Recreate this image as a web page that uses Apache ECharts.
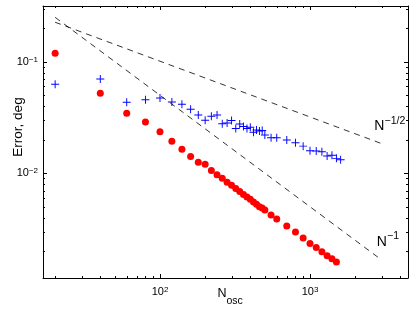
<!DOCTYPE html>
<html><head><meta charset="utf-8">
<script src="https://cdn.jsdelivr.net/npm/echarts@6/dist/echarts.min.js"></script>
<style>html,body{margin:0;padding:0;background:#fff}#c{width:415px;height:309px}</style>
</head><body><div id="c"></div>
<script>
// ---- data ----
const nOscRed = [20,40,60,80,100,120,140,160,180,200,220,240,260,280,300,320,340,360,380,400,420,440,460,480,500,550,600,700,800,900,1000,1100,1200,1300,1400,1500];
const errRed = [0.1189,0.0521,0.0345,0.0288,0.0236,0.0194,0.0164,0.0141,0.01256,0.01205,0.0106,0.0097,0.00904,0.0083,0.0078,0.00728,0.00687,0.00646,0.00613,0.00585,0.00553,0.00527,0.00502,0.00489,0.00469,0.00423,0.00389,0.00337,0.00298,0.00262,0.00235,0.00216,0.00198,0.00182,0.00171,0.0016];
const nOscBlue = [20,40,60,80,100,120,140,160,180,200,220,240,260,280,300,320,340,360,380,400,420,440,460,480,500,550,600,700,800,900,1000,1100,1200,1300,1400,1500,1600];
const errBlue = [0.0627,0.0700,0.0433,0.0456,0.0473,0.0435,0.0416,0.0375,0.0333,0.0299,0.0324,0.0333,0.0278,0.0282,0.0297,0.0252,0.0277,0.0262,0.0252,0.0258,0.0233,0.0244,0.0239,0.0242,0.0220,0.0208,0.0208,0.0199,0.0188,0.0175,0.0159,0.0158,0.0156,0.0143,0.0145,0.0136,0.0132];
const refHalfN = [20, 3000];
const refHalfErr = [0.226, 0.01845];
const refOneN = [20, 3000];
const refOneErr = [0.25, 0.00167];
const xMajorTicks = [100, 1000];
const xMinorTicks = [20,30,40,50,60,70,80,90,200,300,400,500,600,700,800,900,2000,3000,4000];
const yMajorTicks = [0.01, 0.1];
const yMinorTicks = [0.002,0.003,0.004,0.005,0.006,0.007,0.008,0.009,0.02,0.03,0.04,0.05,0.06,0.07,0.08,0.09,0.2,0.3];
const xRange = [16.6, 4500];
const yRange = [0.00115, 0.316];

const FONT = '"Liberation Sans", Arial, Helvetica, sans-serif';
const chart = echarts.init(document.getElementById('c'), null, {renderer: 'canvas'});

function isPow10(v) {
  const e = Math.log10(v);
  return Math.abs(e - Math.round(e)) < 1e-6;
}
function expLabel(v) {
  if (!isPow10(v)) return '';
  const e = Math.round(Math.log10(v));
  return '{b|10}{s|' + String(e).replace('-', '\u2212') + '}';
}
const labelRich = {
  b: {fontFamily: FONT, fontSize: 11, lineHeight: 12, color: '#000'},
  s: {fontFamily: FONT, fontSize: 8, lineHeight: 12, verticalAlign: 'top', color: '#000'}
};

function baseAxis(range, extra) {
  return Object.assign({
    type: 'log', logBase: 10, min: range[0], max: range[1],
    splitLine: {show: false}, axisTick: {show: false}, minorTick: {show: false},
    axisLine: {show: true, lineStyle: {color: '#000', width: 1}}
  }, extra);
}

function tickSeries(values, isX, len) {
  return {
    type: 'custom', silent: true, z: 5, clip: false,
    xAxisIndex: 0, yAxisIndex: 0,
    data: values.map(v => isX ? [v, 0.01] : [100, v]),
    encode: {x: 0, y: 1},
    renderItem: function (params, api) {
      const cs = params.coordSys;
      const p = api.coord([api.value(0), api.value(1)]);
      const st = {stroke: '#000', lineWidth: 1};
      if (isX) {
        const x = Math.round(p[0]) + 0.5;
        const yb = cs.y + cs.height, yt = cs.y;
        return {type: 'group', children: [
          {type: 'line', shape: {x1: x, y1: yb, x2: x, y2: yb - len}, style: st},
          {type: 'line', shape: {x1: x, y1: yt, x2: x, y2: yt + len}, style: st}
        ]};
      } else {
        const y = Math.round(p[1]) + 0.5;
        const xl = cs.x, xr = cs.x + cs.width;
        return {type: 'group', children: [
          {type: 'line', shape: {x1: xl, y1: y, x2: xl + len, y2: y}, style: st},
          {type: 'line', shape: {x1: xr, y1: y, x2: xr - len, y2: y}, style: st}
        ]};
      }
    }
  };
}

const plusPath = 'path://M-0.6,-5 L0.6,-5 L0.6,-0.6 L5,-0.6 L5,0.6 L0.6,0.6 L0.6,5 L-0.6,5 L-0.6,0.6 L-5,0.6 L-5,-0.6 L-0.6,-0.6 Z';

const option = {
  animation: false,
  backgroundColor: '#fff',
  grid: {left: 43, top: 6, right: 7, bottom: 31, containLabel: false},
  xAxis: [
    baseAxis(xRange, {position: 'bottom', axisLabel: {show: true, margin: 8, showMinLabel: false, showMaxLabel: false, formatter: expLabel, rich: labelRich}}),
    baseAxis(xRange, {position: 'top', axisLabel: {show: false}})
  ],
  yAxis: [
    baseAxis(yRange, {position: 'left', axisLabel: {show: true, margin: 5, showMinLabel: false, showMaxLabel: false, formatter: expLabel, rich: labelRich}}),
    baseAxis(yRange, {position: 'right', axisLabel: {show: false}})
  ],
  series: [
    {
      name: 'N^-1/2', type: 'line', data: refHalfN.map((n, i) => [n, refHalfErr[i]]),
      showSymbol: false, silent: true,
      lineStyle: {color: '#000', width: 0.8, type: [6, 5]}
    },
    {
      name: 'N^-1', type: 'line', data: refOneN.map((n, i) => [n, refOneErr[i]]),
      showSymbol: false, silent: true,
      lineStyle: {color: '#000', width: 0.8, type: [6, 5]}
    },
    {
      name: 'blue', type: 'scatter', data: nOscBlue.map((n, i) => [n, errBlue[i]]),
      symbol: plusPath, symbolSize: 8,
      itemStyle: {color: '#0000ff', opacity: 1}
    },
    {
      name: 'red', type: 'scatter', data: nOscRed.map((n, i) => [n, errRed[i]]),
      symbol: 'circle', symbolSize: 7,
      itemStyle: {color: '#ff0000', opacity: 1}
    },
    tickSeries(xMajorTicks, true, 4),
    tickSeries(xMinorTicks, true, 2),
    tickSeries(yMajorTicks, false, 4),
    tickSeries(yMinorTicks, false, 2)
  ],
  graphic: [
    {type: 'text', x: 18.5, y: 127, rotation: Math.PI / 2,
     style: {text: 'Error, deg', font: '13.5px ' + FONT, fill: '#000', align: 'center', verticalAlign: 'middle'}},
    {type: 'text', x: 217.5, y: 294, style: {text: 'N', font: '12.5px ' + FONT, fill: '#000', align: 'left', verticalAlign: 'middle'}},
    {type: 'text', x: 226.5, y: 301.5, style: {text: 'osc', font: '10.5px ' + FONT, fill: '#000', align: 'left', verticalAlign: 'middle'}},
    {type: 'text', x: 374.3, y: 126.2, style: {text: 'N', font: '14px ' + FONT, fill: '#000', align: 'left', verticalAlign: 'middle'}},
    {type: 'text', x: 384.5, y: 121.5, style: {text: '\u22121/2', font: '10.5px ' + FONT, fill: '#000', align: 'left', verticalAlign: 'middle'}},
    {type: 'text', x: 376.7, y: 242.5, style: {text: 'N', font: '14px ' + FONT, fill: '#000', align: 'left', verticalAlign: 'middle'}},
    {type: 'text', x: 387, y: 236.5, style: {text: '\u22121', font: '10.5px ' + FONT, fill: '#000', align: 'left', verticalAlign: 'middle'}}
  ]
};
chart.setOption(option);
</script>
</body></html>
